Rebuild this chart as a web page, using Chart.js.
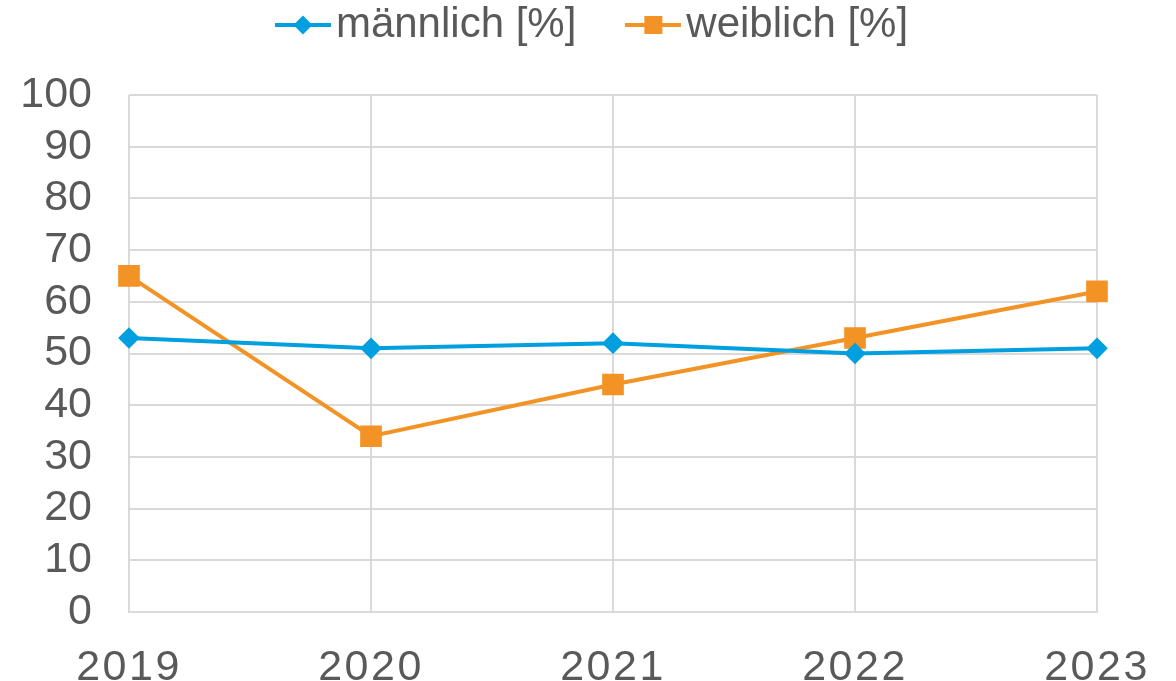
<!DOCTYPE html>
<html><head><meta charset="utf-8">
<script src="https://cdn.jsdelivr.net/npm/chart.js@4.4.1/dist/chart.umd.min.js"></script>
<style>html,body{margin:0;padding:0;background:#fff;}#wrap{width:1176px;height:681px;}</style>
</head><body><div id="wrap"><canvas id="c" width="1176" height="681"></canvas></div>
<script>
const years = ['2019','2020','2021','2022','2023'];
const maennlich = [53, 51, 52, 50, 51];
const weiblich = [65, 34, 44, 53, 62];
const yTicks = [0,10,20,30,40,50,60,70,80,90,100];

const BLUE = '#009FDF', ORANGE = '#F39325', TEXT = '#595959', GRID = '#D9D9D9';
const FONT = "'Liberation Sans', Arial, sans-serif";

function legendIcon(color, style){
  const c = document.createElement('canvas');
  c.width = 56; c.height = 22;
  const g = c.getContext('2d');
  g.strokeStyle = color; g.lineWidth = 4;
  g.beginPath(); g.moveTo(0,11); g.lineTo(56,11); g.stroke();
  g.fillStyle = color;
  if(style==='rect'){ g.fillRect(28-9,11-9,18,18); }
  else { g.beginPath(); g.moveTo(28,1.5); g.lineTo(37.5,11); g.lineTo(28,20.5); g.lineTo(18.5,11); g.closePath(); g.fill(); }
  return c;
}
const icons = [legendIcon(BLUE,'rectRot'), legendIcon(ORANGE,'rect')];

const tweak = {
  id:'tweak',
  afterInit(chart){
    const lg = chart.legend;
    const orig = lg.fit;
    lg.fit = function(){ orig.call(this); this.height = 95; };
  },
  afterLayout(chart){
    const lg = chart.legend;
    const dx = 51;
    lg.top = -61; lg.left += dx; lg.right += dx;
    const xs = chart.scales.x;
    if(!xs._patched){
      const od = xs.drawLabels;
      xs.drawLabels = function(a){ const ctx=this.ctx; ctx.save(); ctx.letterSpacing='2.5px'; od.call(this,a); ctx.restore(); };
      xs._patched = true;
    }
  }
};

new Chart(document.getElementById('c'), {
  type:'line',
  data:{labels:years, datasets:[
    {label:'männlich [%]', data:maennlich, borderColor:BLUE, backgroundColor:BLUE, borderWidth:4, pointStyle:'rectRot', pointRadius:8, pointHoverRadius:8, tension:0},
    {label:'weiblich [%]', data:weiblich, borderColor:ORANGE, backgroundColor:ORANGE, borderWidth:4, pointStyle:'rect', pointRadius:12.5, pointHoverRadius:12.5, tension:0}
  ]},
  plugins:[tweak],
  options:{
    responsive:false, animation:false,
    layout:{padding:{top:0,right:79,left:0,bottom:0}},
    plugins:{
      tooltip:{enabled:false},
      legend:{position:'top', labels:{
        color:TEXT, font:{family:FONT,size:42}, usePointStyle:true, pointStyleWidth:24, padding:65,
        generateLabels(chart){
          return chart.data.datasets.map((d,i)=>({text:d.label, fillStyle:d.borderColor, strokeStyle:d.borderColor, lineWidth:0, pointStyle:icons[i], datasetIndex:i, fontColor:TEXT}));
        }
      }}
    },
    scales:{
      x:{offset:false, grid:{color:GRID, lineWidth:2, drawTicks:false}, border:{color:GRID, width:2},
         ticks:{color:TEXT, font:{family:FONT,size:43}, padding:30, maxRotation:0, autoSkip:false},
         afterFit(s){s.height=69;}},
      y:{min:0, max:100, afterBuildTicks(s){s.ticks = yTicks.map(v=>({value:v}));},
         grid:{color:GRID, lineWidth:2, drawTicks:false}, border:{display:false},
         ticks:{color:TEXT, font:{family:FONT,size:43}, padding:37, autoSkip:false},
         afterFit(s){s.width=129;}}
    }
  }
});
</script></body></html>
